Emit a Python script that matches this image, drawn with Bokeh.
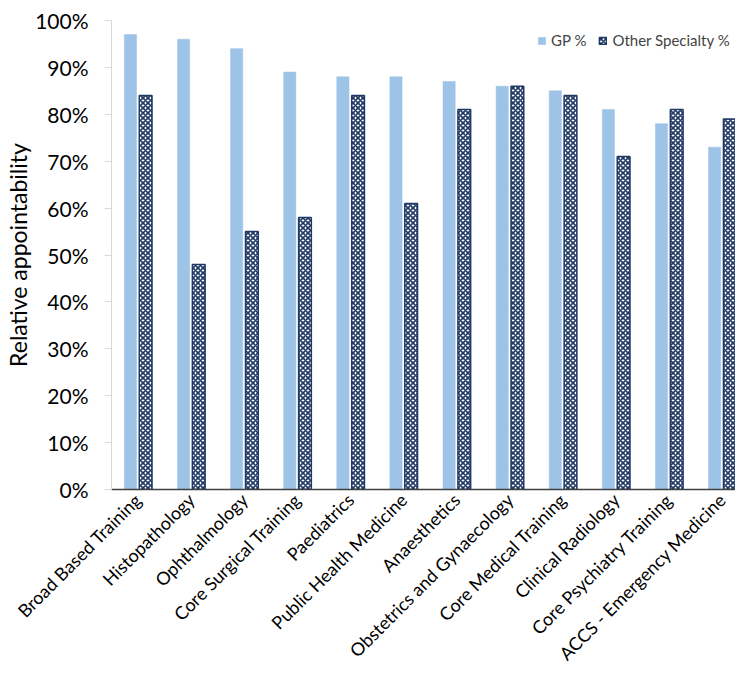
import math
from bokeh.plotting import figure
from bokeh.models import (Range1d, FixedTicker, NumeralTickFormatter, Legend, LegendItem,
                          ColumnDataSource)
from bokeh.embed import file_html
from bokeh.resources import INLINE

categories = ["Broad Based Training", "Histopathology", "Ophthalmology",
              "Core Surgical Training", "Paediatrics", "Public Health Medicine",
              "Anaesthetics", "Obstetrics and Gynaecology", "Core Medical Training",
              "Clinical Radiology", "Core Psychiatry Training",
              "ACCS - Emergency Medicine"]
gp_pct = [0.97, 0.96, 0.94, 0.89, 0.88, 0.88, 0.87, 0.86, 0.85, 0.81, 0.78, 0.73]
other_pct = [0.84, 0.48, 0.55, 0.58, 0.84, 0.61, 0.81, 0.86, 0.84, 0.71, 0.81, 0.79]
series_names = ["GP %", "Other Specialty %"]
y_ticks = [0.0, 0.1, 0.2, 0.3, 0.4, 0.5, 0.6, 0.7, 0.8, 0.9, 1.0]

FONT = "Lato"
GP_COLOR = "#9DC3E6"
NAVY = "#1F3864"

centers = [i + 0.5 for i in range(len(categories))]
src = ColumnDataSource(dict(
    x_gp=[c - 0.143 for c in centers],
    x_ot=[c + 0.143 for c in centers],
    gp=gp_pct, other=other_pct,
))

H = 674
p = figure(width=735, height=H, output_backend="svg", toolbar_location=None,
           x_range=Range1d(0, 11.75), y_range=Range1d(0, 1.0),
           min_border_left=111, min_border_right=0, min_border_top=20,
           min_border_bottom=H - 491)
p.outline_line_color = None
p.xgrid.visible = False
p.ygrid.visible = False

r_gp = p.vbar(x="x_gp", top="gp", width=0.23, source=src,
              fill_color=GP_COLOR, line_color=GP_COLOR, line_width=0.5)
r_ot = p.vbar(x="x_ot", top="other", width=0.24, source=src,
              fill_color="white", line_color=NAVY, line_width=1.5,
              hatch_pattern="diagonal_cross", hatch_color=NAVY,
              hatch_scale=5, hatch_weight=1.6)

# x axis
p.xaxis.ticker = FixedTicker(ticks=centers)
p.xaxis.major_label_overrides = {c: name for c, name in zip(centers, categories)}
p.xaxis.major_label_orientation = math.pi / 4
p.xaxis.major_tick_line_color = None
p.xaxis.minor_tick_line_color = None
p.xaxis.axis_line_color = "#404040"
p.xaxis.axis_line_width = 1.5
p.xaxis.major_label_text_font = FONT
p.xaxis.major_label_text_font_size = "18px"
p.xaxis.major_label_text_color = "black"
p.xaxis.major_label_standoff = 1

# y axis
p.yaxis.ticker = FixedTicker(ticks=y_ticks)
p.yaxis.formatter = NumeralTickFormatter(format="0%")
p.yaxis.axis_line_color = "#D9D9D9"
p.yaxis.major_tick_line_color = "#D9D9D9"
p.yaxis.major_tick_in = 0
p.yaxis.major_tick_out = 7
p.yaxis.minor_tick_line_color = None
p.yaxis.major_label_text_font = FONT
p.yaxis.major_label_text_font_size = "21px"
p.yaxis.major_label_text_color = "black"
p.yaxis.major_label_standoff = 16
p.yaxis.axis_label = "Relative appointability"
p.yaxis.axis_label_text_font = FONT
p.yaxis.axis_label_text_font_size = "23px"
p.yaxis.axis_label_text_font_style = "normal"
p.yaxis.axis_label_text_color = "black"
p.yaxis.axis_label_standoff = 0

legend = Legend(items=[LegendItem(label=series_names[0], renderers=[r_gp]),
                       LegendItem(label=series_names[1], renderers=[r_ot])],
                orientation="horizontal", location=(426, 440),
                border_line_color=None, background_fill_alpha=0,
                label_text_font=FONT, label_text_font_size="15px",
                glyph_width=9, glyph_height=9, spacing=12, padding=0, margin=0,
                label_standoff=5)
p.add_layout(legend, "center")

open("out.html", "w").write(file_html(p, INLINE))
